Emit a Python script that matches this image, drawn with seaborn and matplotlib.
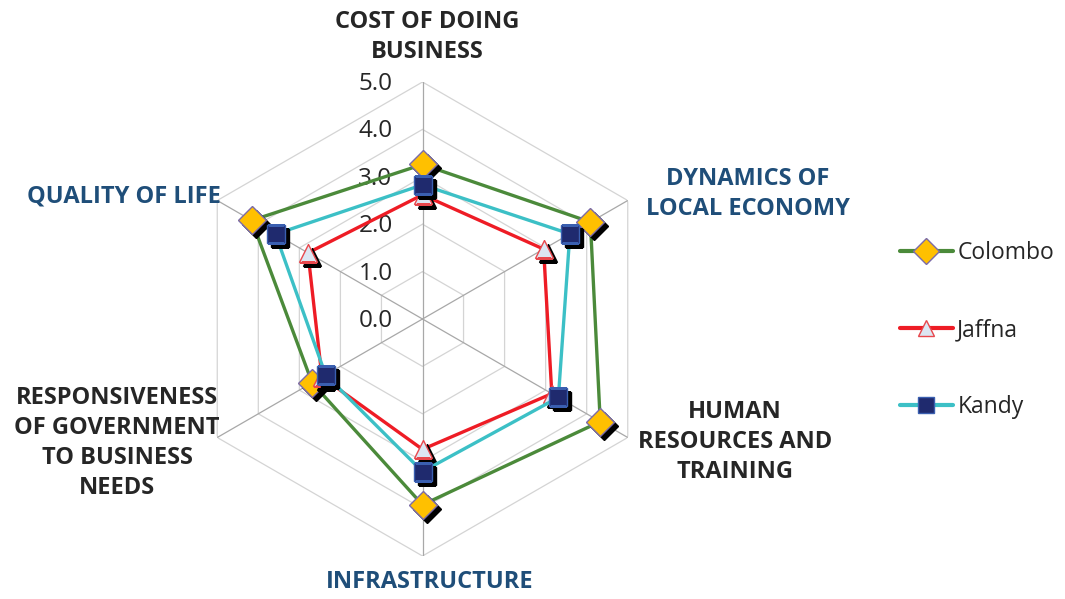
import numpy as np
import matplotlib
matplotlib.use("Agg")
import matplotlib.pyplot as plt
import seaborn as sns
from matplotlib.lines import Line2D
from matplotlib.transforms import offset_copy

# --- data -------------------------------------------------------------
categories = [
    "COST OF DOING\nBUSINESS",
    "DYNAMICS OF\nLOCAL ECONOMY",
    "HUMAN\nRESOURCES AND\nTRAINING",
    "INFRASTRUCTURE",
    "RESPONSIVENESS\nOF GOVERNMENT\nTO BUSINESS\nNEEDS",
    "QUALITY OF LIFE",
]
colombo = [3.26, 4.09, 4.33, 3.92, 2.69, 4.16]
jaffna = [2.62, 2.95, 3.15, 2.75, 2.45, 2.79]
kandy = [2.83, 3.59, 3.31, 3.22, 2.36, 3.58]
cities = ["Colombo", "Jaffna", "Kandy"]
r_ticks = [0.0, 1.0, 2.0, 3.0, 4.0, 5.0]

# --- styles -----------------------------------------------------------
styles = {
    "Colombo": dict(color="#4B8A3A", marker="D", ms=14.5, mfc="#FFC000", mec="#7B6BA8"),
    "Jaffna": dict(color="#EE1C25", marker="^", ms=12.5, mfc="#DCE6F2", mec="#E8474C"),
    "Kandy": dict(color="#3CC0C6", marker="s", ms=13, mfc="#1F2A6E", mec="#3A5FB0"),
}
label_colors = ["#262626", "#1F4E79", "#262626", "#1F4E79", "#262626", "#1F4E79"]
# label block centres in pixels (x, y from top)
label_pos = [(427, 37), (748, 194), (735, 442), (430, 582), (117, 443), (124, 196)]

sns.set_theme(style="white")
plt.rcParams["font.family"] = ["Open Sans", "DejaVu Sans"]

W, H = 1065, 599
fig = plt.figure(figsize=(W / 100, H / 100), dpi=100)
cx, cy, R = 422.5, 319.0, 237.0
ax = fig.add_axes([(cx - R) / W, 1 - (cy + R) / H, 2 * R / W, 2 * R / H], projection="polar")
ax.set_theta_zero_location("N")
ax.set_theta_direction(-1)
ax.set_ylim(0, 5)
ax.grid(False)
ax.spines["polar"].set_visible(False)
ax.set_xticks([])
ax.set_yticks([])
ax.patch.set_alpha(0)

n = len(categories)
angles = np.linspace(0, 2 * np.pi, n, endpoint=False)
closed = np.append(angles, 2 * np.pi)

# hexagonal grid
for r in r_ticks[1:]:
    ax.plot(closed, [r] * (n + 1), color="#D4D4D4", lw=0.9, zorder=1)
for a in angles:
    ax.plot([a, a], [0, 5], color="#A8A8A8", lw=0.9, zorder=1)

# radial tick labels
lab_tr = offset_copy(ax.transData, fig=fig, x=-30, y=-2, units="dots")
for r in r_ticks:
    ax.text(0, r, f"{r:.1f}", transform=lab_tr, ha="right", va="center",
            fontsize=17.5, color="#262626")

# series
shadow_tr = offset_copy(ax.transData, fig=fig, x=4, y=-4, units="dots")
data = {"Colombo": colombo, "Jaffna": jaffna, "Kandy": kandy}
for i, city in enumerate(cities):
    st = styles[city]
    vals = np.append(data[city], data[city][0])
    sns.lineplot(x=closed, y=vals, ax=ax, sort=False, estimator=None,
                 color=st["color"], lw=2.4, zorder=3 + 3 * i)
    ax.plot(angles, data[city], ls="none", marker=st["marker"], ms=st["ms"],
            color="black", transform=shadow_tr, zorder=4 + 3 * i)
    ax.plot(angles, data[city], ls="none", marker=st["marker"], ms=st["ms"],
            mfc=st["mfc"], mec=st["mec"], mew=1.0, zorder=5 + 3 * i)

# category labels
for txt, (px, py), c in zip(categories, label_pos, label_colors):
    fig.text(px / W, 1 - py / H, txt, ha="center", va="center", ma="center",
             fontsize=17, fontweight="bold", color=c, linespacing=1.35)

# legend
handles = [
    Line2D([], [], color=styles[c]["color"], lw=3, marker=styles[c]["marker"],
           ms=styles[c]["ms"] - 1.5, mfc=styles[c]["mfc"], mec=styles[c]["mec"])
    for c in cities
]
fig.legend(handles, cities, loc="center left", bbox_to_anchor=(900 / W, 1 - 330 / H),
           frameon=False, fontsize=16.5, handlelength=2.3, handletextpad=0.2,
           labelspacing=2.3, borderpad=0, borderaxespad=0,
           labelcolor="#262626")

fig.savefig("out.png", dpi=100)
